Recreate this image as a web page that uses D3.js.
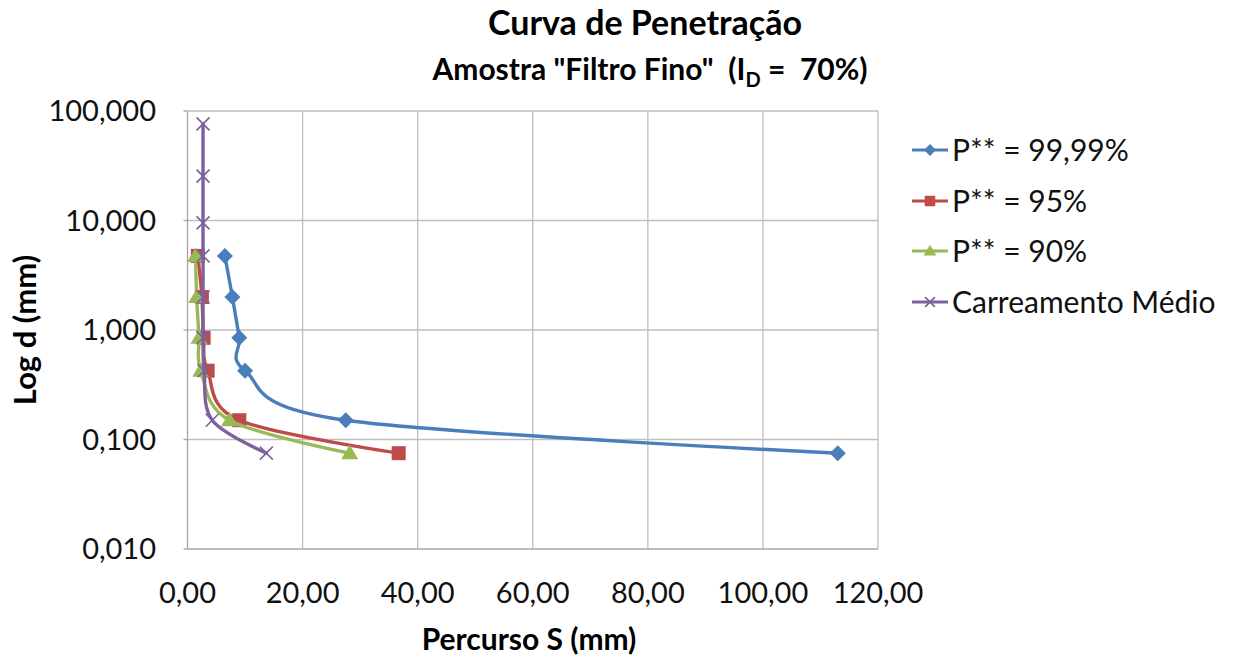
<!DOCTYPE html>
<html><head><meta charset="utf-8">
<script src="https://cdn.jsdelivr.net/npm/d3@7"></script>
<style>
html,body{margin:0;padding:0;background:#fff;}
svg{display:block;font-family:Lato, "Open Sans", sans-serif;}
text{white-space:pre;}
</style></head>
<body><svg id="c" width="1239" height="655"></svg>
<script>
const sizes = [76.2, 25.4, 9.5, 4.75, 2.0, 0.85, 0.425, 0.15, 0.075];
const seriesNames = ["P** = 99,99%", "P** = 95%", "P** = 90%", "Carreamento Médio"];
const p9999 = [6.5, 7.8, 9.0, 10.0, 27.5, 113.0];
const p95 = [1.8, 2.5, 2.8, 3.5, 9.0, 36.7];
const p90 = [1.4, 1.6, 2.0, 2.3, 7.3, 28.2];
const carreamento = [2.7, 2.7, 2.7, 2.7, 2.7, 2.7, 2.9, 4.3, 13.7];
const xTicks = [0, 20, 40, 60, 80, 100, 120];
const yTicks = [0.01, 0.1, 1, 10, 100];
const colors = ["#4A7EBB", "#BE4B48", "#98B954", "#7D60A0"];
const markers = ["diamond", "square", "triangle", "x"];

const svg = d3.select("#c");
const L = 187.5, R = 878, T = 111, B = 549;
const x = d3.scaleLinear().domain([0, 120]).range([L, R]);
const y = d3.scaleLog().domain([0.01, 100]).range([B, T]);
const fmtX = v => d3.format(".2f")(v).replace(".", ",");
const fmtY = v => d3.format(".3f")(v).replace(".", ",");

// gridlines
svg.append("g").selectAll("line").data(yTicks.slice(1)).join("line")
  .attr("x1", L).attr("x2", R).attr("y1", d => y(d)).attr("y2", d => y(d))
  .attr("stroke", "#BFBFBF").attr("stroke-width", 1.3);
svg.append("g").selectAll("line").data(xTicks.slice(1)).join("line")
  .attr("y1", T).attr("y2", B).attr("x1", d => x(d)).attr("x2", d => x(d))
  .attr("stroke", "#BFBFBF").attr("stroke-width", 1.3);
// axes lines + small y ticks
svg.append("line").attr("x1", L).attr("x2", L).attr("y1", T).attr("y2", B).attr("stroke", "#A6A6A6").attr("stroke-width", 1.3);
svg.append("line").attr("x1", L).attr("x2", R).attr("y1", B).attr("y2", B).attr("stroke", "#A6A6A6").attr("stroke-width", 1.3);
svg.append("g").selectAll("line").data(yTicks).join("line")
  .attr("x1", L - 4).attr("x2", L).attr("y1", d => y(d)).attr("y2", d => y(d))
  .attr("stroke", "#A6A6A6").attr("stroke-width", 1.3);

// tick labels
svg.append("g").selectAll("text").data(yTicks).join("text")
  .attr("x", 156).attr("y", d => y(d)).attr("dy", "0.36em").attr("text-anchor", "end")
  .attr("font-size", 29).attr("fill", "#111").text(fmtY);
svg.append("g").selectAll("text").data(xTicks).join("text")
  .attr("x", d => x(d)).attr("y", 603).attr("text-anchor", "middle")
  .attr("font-size", 29).attr("fill", "#111").text(fmtX);

// titles
svg.append("text").attr("x", 645).attr("y", 35).attr("text-anchor", "middle")
  .attr("font-size", 34).attr("font-weight", "bold").text("Curva de Penetração");
const t2 = svg.append("text").attr("x", 650).attr("y", 80).attr("text-anchor", "middle")
  .attr("font-size", 30).attr("font-weight", "bold");
t2.append("tspan").text("Amostra \"Filtro Fino\"  (I");
t2.append("tspan").attr("font-size", 20).attr("dy", 7).text("D");
t2.append("tspan").attr("dy", -7).text(" =  70%)");
svg.append("text").attr("x", 529).attr("y", 650).attr("text-anchor", "middle")
  .attr("font-size", 30).attr("font-weight", "bold").text("Percurso S (mm)");
svg.append("text").attr("transform", "translate(36,330) rotate(-90)").attr("text-anchor", "middle")
  .attr("font-size", 31).attr("font-weight", "bold").text("Log d (mm)");

// marker drawing
function drawMarker(g, type, cx, cy, color, s) {
  if (type === "diamond") {
    g.append("path").attr("d", `M${cx},${cy-8*s}L${cx+8*s},${cy}L${cx},${cy+8*s}L${cx-8*s},${cy}Z`).attr("fill", color);
  } else if (type === "square") {
    g.append("rect").attr("x", cx-7*s).attr("y", cy-7*s).attr("width", 14*s).attr("height", 14*s).attr("fill", color);
  } else if (type === "triangle") {
    g.append("path").attr("d", `M${cx},${cy-8.5*s}L${cx+8.5*s},${cy+6*s}L${cx-8.5*s},${cy+6*s}Z`).attr("fill", color);
  } else {
    g.append("path").attr("d", `M${cx-6.5*s},${cy-6.5*s}L${cx+6.5*s},${cy+6.5*s}M${cx-6.5*s},${cy+6.5*s}L${cx+6.5*s},${cy-6.5*s}`)
      .attr("stroke", color).attr("stroke-width", 1.6).attr("fill", "none");
  }
}

const allSeries = [
  p9999.map((v, i) => [v, sizes[i + 3]]),
  p95.map((v, i) => [v, sizes[i + 3]]),
  p90.map((v, i) => [v, sizes[i + 3]]),
  carreamento.map((v, i) => [v, sizes[i]])
];
const line = d3.line().x(d => x(d[0])).y(d => y(d[1])).curve(d3.curveCatmullRom.alpha(0));

allSeries.forEach((s, k) => {
  const g = svg.append("g");
  g.append("path").attr("d", line(s)).attr("fill", "none").attr("stroke", colors[k]).attr("stroke-width", 3.4)
    .attr("stroke-linejoin", "round").attr("stroke-linecap", "round");
  s.forEach(d => drawMarker(g, markers[k], x(d[0]), y(d[1]), colors[k], 1));
});

// legend
const legY = [150, 201, 251, 302];
seriesNames.forEach((n, k) => {
  const g = svg.append("g");
  g.append("line").attr("x1", 912).attr("x2", 948).attr("y1", legY[k]).attr("y2", legY[k]).attr("stroke", colors[k]).attr("stroke-width", 3);
  drawMarker(g, markers[k], 930, legY[k], colors[k], 0.75);
  g.append("text").attr("x", 952).attr("y", legY[k]).attr("dy", "0.36em").attr("font-size", 30).attr("fill", "#111").text(n);
});
</script></body></html>
